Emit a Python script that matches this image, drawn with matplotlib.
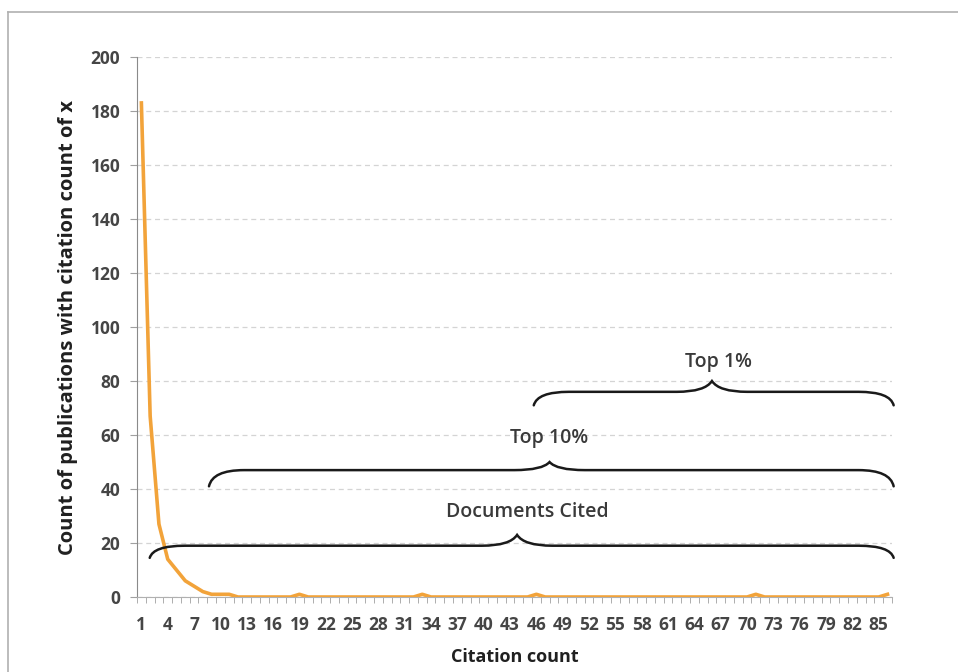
import numpy as np
import matplotlib.pyplot as plt
from matplotlib.path import Path
from matplotlib.patches import PathPatch
from matplotlib.lines import Line2D

# datos
citations = list(range(1, 87))
counts = [183, 67, 27, 14, 10, 6, 4, 2, 1, 1, 1] + [0] * 75
for c in [19, 33, 46, 71, 86]:
    counts[c - 1] = 1
tick_labels = [str(c) for c in range(1, 86, 3)]

# llaves: (inicio, fin, pico, y extremo, y recta, y pico, texto, x texto, y texto)
braces = [
    (1.95, 86.7, 43.8, 14.5, 19, 23, "Documents Cited", 45.0, 31.5),
    (8.7, 86.7, 47.5, 41, 47, 50, "Top 10%", 47.5, 59),
    (45.7, 86.7, 66.0, 71, 76, 80, "Top 1%", 66.7, 87),
]

plt.rcParams['font.family'] = ['Open Sans', 'DejaVu Sans']
text_color = '#3a3a3a'

fig = plt.figure(figsize=(9.58, 6.72), dpi=100)
ax = fig.add_axes([0.143, 0.1116, 0.788, 0.8035])

# marco exterior
fig.add_artist(Line2D([8 / 958, 8 / 958], [0, 1 - 12 / 672], color='#b0b0b0', lw=1.2))
fig.add_artist(Line2D([8 / 958, 1], [1 - 12 / 672, 1 - 12 / 672], color='#b0b0b0', lw=1.2))

ax.plot(citations, counts, color='#F2A33A', lw=2.6, solid_joinstyle='round', zorder=3)

ax.set_xlim(0.5, 86.5)
ax.set_ylim(0, 200)
ax.set_yticks(range(0, 201, 20))
ax.set_xticks(range(1, 86, 3))
ax.set_xticklabels(tick_labels)
ax.set_xticks(np.arange(0.5, 87, 1), minor=True)
ax.tick_params(axis='x', which='major', length=0, pad=14, labelsize=12.5)
ax.tick_params(axis='x', which='minor', length=4, color='#a0a0a0', direction='out')
ax.tick_params(axis='y', length=5, color='#a0a0a0', labelsize=12.5, pad=7)
for lab in ax.get_xticklabels() + ax.get_yticklabels():
    lab.set_fontweight('bold')
    lab.set_color('#454545')

ax.grid(axis='y', color='#d4d4d4', linestyle=(0, (4, 3)), lw=0.9)
ax.set_axisbelow(True)
for s in ['top', 'right']:
    ax.spines[s].set_visible(False)
ax.spines['left'].set_color('#8a8a8a')
ax.spines['bottom'].set_color('#b0b0b0')

ax.set_xlabel('Citation count', fontsize=13, fontweight='bold', color='#202020', labelpad=10)
ax.set_ylabel('Count of publications with citation count of x', fontsize=14.5,
              fontweight='bold', color='#202020', labelpad=9)


def brace(ax, x0, x1, xm, ye, ys, yp):
    a = 4.0
    b = 4.0
    verts = [(x0, ye), (x0 + 0.4, ys), (x0 + a, ys),
             (xm - b, ys),
             (xm - 0.8, ys), (xm, yp),
             (xm + 0.8, ys), (xm + b, ys),
             (x1 - a, ys),
             (x1 - 0.4, ys), (x1, ye)]
    codes = [Path.MOVETO, Path.CURVE3, Path.CURVE3,
             Path.LINETO,
             Path.CURVE3, Path.CURVE3,
             Path.CURVE3, Path.CURVE3,
             Path.LINETO,
             Path.CURVE3, Path.CURVE3]
    ax.add_patch(PathPatch(Path(verts, codes), fill=False, lw=1.8,
                           edgecolor='#1a1a1a', capstyle='round', zorder=4, clip_on=False))


for x0, x1, xm, ye, ys, yp, txt, tx, ty in braces:
    brace(ax, x0, x1, xm, ye, ys, yp)
    ax.text(tx, ty, txt, ha='center', va='center', fontsize=14,
            fontweight='semibold', color=text_color)

fig.savefig('out.png', dpi=100)
